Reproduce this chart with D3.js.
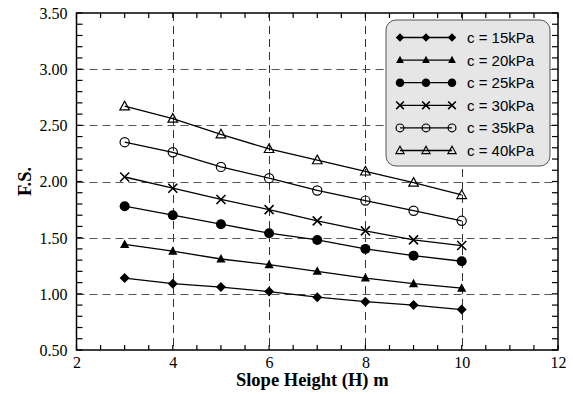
<!DOCTYPE html>
<html><head><meta charset="utf-8">
<script src="https://cdn.jsdelivr.net/npm/d3@7"></script>
<style>body{margin:0;background:#fff}svg{display:block}
.serif{font-family:"Liberation Serif","Times New Roman",serif}
</style>
</head><body>
<svg id="c" width="573" height="394"></svg>
<script>
const heights = [3, 4, 5, 6, 7, 8, 9, 10];
const seriesNames = ["c = 15kPa", "c = 20kPa", "c = 25kPa", "c = 30kPa", "c = 35kPa", "c = 40kPa"];
const fs15 = [1.14, 1.09, 1.06, 1.02, 0.97, 0.93, 0.90, 0.86];
const fs20 = [1.44, 1.38, 1.31, 1.26, 1.20, 1.14, 1.09, 1.05];
const fs25 = [1.78, 1.70, 1.62, 1.54, 1.48, 1.40, 1.34, 1.29];
const fs30 = [2.04, 1.94, 1.84, 1.75, 1.65, 1.56, 1.48, 1.43];
const fs35 = [2.35, 2.26, 2.13, 2.03, 1.92, 1.83, 1.74, 1.65];
const fs40 = [2.67, 2.56, 2.42, 2.29, 2.19, 2.09, 1.99, 1.88];
const markerTypes = ["diamond", "triangle", "circle", "cross", "ocircle", "otriangle"];
const xTicks = [2, 4, 6, 8, 10, 12];
const yTicks = [0.5, 1.0, 1.5, 2.0, 2.5, 3.0, 3.5];

const allSeries = [fs15, fs20, fs25, fs30, fs35, fs40];
const svg = d3.select("#c");
const L = 76.5, R = 558, T = 13, B = 350;
const x = d3.scaleLinear().domain([2, 12]).range([L, R]);
const y = d3.scaleLinear().domain([0.5, 3.5]).range([B, T]);

// grid
const g = svg.append("g");
g.selectAll("line.vg").data([4, 6, 8, 10]).join("line")
  .attr("x1", d => Math.round(x(d)) + 0.5).attr("x2", d => Math.round(x(d)) + 0.5)
  .attr("y1", T).attr("y2", B)
  .attr("stroke", "#333").attr("stroke-width", 1).attr("stroke-dasharray", "8,5");
g.selectAll("line.hg").data([1.0, 1.5, 2.0, 2.5, 3.0]).join("line")
  .attr("y1", d => Math.round(y(d)) + 0.5).attr("y2", d => Math.round(y(d)) + 0.5)
  .attr("x1", L).attr("x2", R)
  .attr("stroke", "#555").attr("stroke-width", 1).attr("stroke-dasharray", "8,5");

// axes (minor ticks inside)
const xMinor = d3.range(2, 12.01, 0.5);
const yMinor = d3.range(0.5, 3.501, 0.1);
const tickX = svg.append("g");
[[B, -5], [T, 5]].forEach(([yy, len]) => {
  tickX.selectAll(null).data(xMinor).join("line")
    .attr("x1", d => x(d)).attr("x2", d => x(d))
    .attr("y1", yy).attr("y2", yy + len).attr("stroke", "#000").attr("stroke-width", 1.2);
});
[[L, 6], [R, -6]].forEach(([xx, len]) => {
  tickX.selectAll(null).data(yMinor).join("line")
    .attr("y1", d => y(d)).attr("y2", d => y(d))
    .attr("x1", xx).attr("x2", xx + len).attr("stroke", "#000").attr("stroke-width", 1.2);
});
svg.append("rect").attr("x", L).attr("y", T).attr("width", R - L).attr("height", B - T)
  .attr("fill", "none").attr("stroke", "#000").attr("stroke-width", 1.5);

const xAxis = d3.axisBottom(x).tickValues(xTicks).tickSize(0).tickPadding(0).tickFormat(d3.format("d"));
const xa = svg.append("g").attr("transform", `translate(0,${B})`).call(xAxis)
  .attr("font-family", null).attr("font-size", null).attr("class", "serif");
xa.select(".domain").remove();
xa.selectAll("text").attr("y", 18).attr("dy", 0)
  .style("font-family", '"Liberation Serif","Times New Roman",serif').style("font-size", "16px").attr("fill", "#000");

const yAxis = d3.axisLeft(y).tickValues(yTicks).tickSize(0).tickPadding(0).tickFormat(d3.format(".2f"));
const ya = svg.append("g").attr("transform", `translate(${L},0)`).call(yAxis)
  .attr("font-family", null).attr("font-size", null).attr("class", "serif");
ya.select(".domain").remove();
ya.selectAll("text").attr("x", -9).attr("dy", "0.34em")
  .style("font-family", '"Liberation Serif","Times New Roman",serif').style("font-size", "16px").attr("fill", "#000");

svg.append("text").attr("x", (L + R) / 2 - 5).attr("y", 386).attr("text-anchor", "middle")
  .style("font-family", '"Liberation Serif","Times New Roman",serif').attr("font-weight", "bold")
  .style("font-size", "18.5px").text("Slope Height (H) m");
svg.append("text").attr("transform", `translate(31,${(T + B) / 2}) rotate(-90)`).attr("text-anchor", "middle")
  .style("font-family", '"Liberation Serif","Times New Roman",serif').attr("font-weight", "bold")
  .style("font-size", "18.5px").text("F.S.");

function drawMarker(sel, type, s) {
  const k = s;
  if (type === "diamond") {
    sel.append("path").attr("d", `M0,${-5*k}L${5*k},0L0,${5*k}L${-5*k},0Z`).attr("fill", "#000");
  } else if (type === "triangle") {
    sel.append("path").attr("d", `M0,${-5*k}L${4.6*k},${3.5*k}L${-4.6*k},${3.5*k}Z`).attr("fill", "#000");
  } else if (type === "circle") {
    sel.append("circle").attr("r", 5*k).attr("fill", "#000");
  } else if (type === "cross") {
    sel.append("path").attr("d", `M${-4.5*k},${-4.5*k}L${4.5*k},${4.5*k}M${-4.5*k},${4.5*k}L${4.5*k},${-4.5*k}`)
      .attr("stroke", "#000").attr("stroke-width", 1.6).attr("fill", "none");
  } else if (type === "ocircle") {
    sel.append("circle").attr("r", 4.6*k).attr("fill", "none").attr("stroke", "#000").attr("stroke-width", 1.2);
  } else if (type === "otriangle") {
    sel.append("path").attr("d", `M0,${-5*k}L${4.8*k},${3.6*k}L${-4.8*k},${3.6*k}Z`)
      .attr("fill", "none").attr("stroke", "#000").attr("stroke-width", 1.2);
  }
}

const line = d3.line().x((d, i) => x(heights[i])).y(d => y(d));
allSeries.forEach((vals, si) => {
  svg.append("path").attr("d", line(vals)).attr("fill", "none").attr("stroke", "#000").attr("stroke-width", 1.3);
  vals.forEach((v, i) => {
    const m = svg.append("g").attr("transform", `translate(${x(heights[i])},${y(v)})`);
    drawMarker(m, markerTypes[si], 1);
  });
});

// legend
const lg = svg.append("g");
lg.append("rect").attr("x", 386).attr("y", 20).attr("width", 164).attr("height", 146).attr("rx", 10)
  .attr("fill", "#e6e6e6").attr("stroke", "#555").attr("stroke-width", 1);
seriesNames.forEach((name, i) => {
  const yy = 37.5 + i * 22.6;
  lg.append("line").attr("x1", 400).attr("x2", 452).attr("y1", yy).attr("y2", yy)
    .attr("stroke", "#000").attr("stroke-width", 1.3);
  [400, 426, 452].forEach(xx => {
    const m = lg.append("g").attr("transform", `translate(${xx},${yy})`);
    drawMarker(m, markerTypes[i], 0.85);
  });
  lg.append("text").attr("x", 467).attr("y", yy).attr("dy", "0.36em")
    .style("font-family", '"Liberation Sans",Arial,sans-serif').style("font-size", "15px").text(name);
});
</script>
</body></html>
